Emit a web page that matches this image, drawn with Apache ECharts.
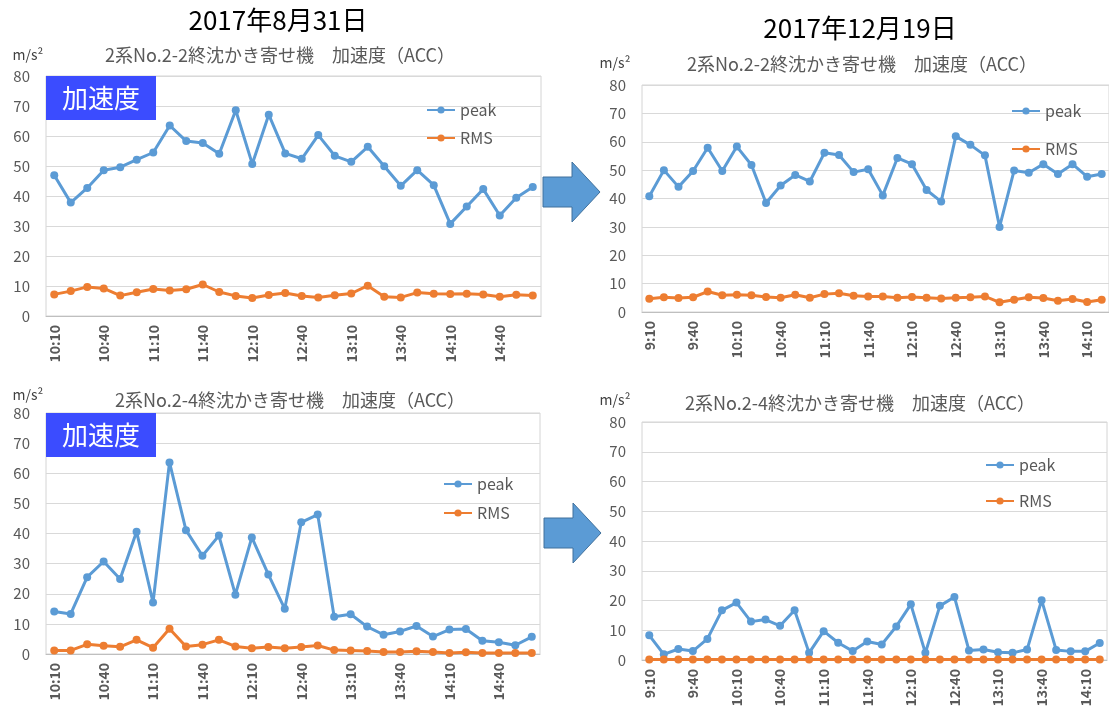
<!DOCTYPE html>
<html>
<head>
<meta charset="utf-8">
<script src="https://cdn.jsdelivr.net/npm/echarts@6/dist/echarts.min.js"></script>
<style>
  body { margin: 0; background: #fff; }
  #main { width: 1109px; height: 710px; }
</style>
</head>
<body>
<div id="main"></div>
<script>
// 8/31 の時刻 (10分毎)
var times1 = ['10:10','10:20','10:30','10:40','10:50','11:00','11:10','11:20','11:30','11:40',
              '11:50','12:00','12:10','12:20','12:30','12:40','12:50','13:00','13:10','13:20',
              '13:30','13:40','13:50','14:00','14:10','14:20','14:30','14:40','14:50','15:00'];
// 12/19 の時刻
var times2 = ['9:10','9:20','9:30','9:40','9:50','10:00','10:10','10:20','10:30','10:40',
              '10:50','11:00','11:10','11:20','11:30','11:40','11:50','12:00','12:10','12:20',
              '12:30','12:40','12:50','13:00','13:10','13:20','13:30','13:40','13:50','14:00',
              '14:10','14:20'];

// No.2-2 8/31
var peak22a = [46.9, 37.8, 42.7, 48.6, 49.6, 52.1, 54.5, 63.5, 58.3, 57.7,
               54.1, 68.6, 50.7, 67.1, 54.2, 52.4, 60.3, 53.4, 51.4, 56.4,
               49.9, 43.4, 48.6, 43.6, 30.7, 36.5, 42.3, 33.5, 39.4, 43.0];
var rms22a  = [7.2, 8.3, 9.7, 9.2, 6.8, 7.9, 9.0, 8.5, 8.9, 10.5,
               8.0, 6.7, 6.0, 7.0, 7.7, 6.7, 6.2, 6.9, 7.5, 10.1,
               6.4, 6.2, 7.8, 7.4, 7.3, 7.4, 7.2, 6.4, 7.1, 6.8];
// No.2-2 12/19
var peak22b = [40.8, 50.0, 44.1, 49.7, 57.9, 49.7, 58.3, 51.8, 38.4, 44.6,
               48.3, 46.0, 56.1, 55.3, 49.3, 50.3, 41.1, 54.3, 52.1, 43.0,
               38.9, 61.9, 58.9, 55.2, 30.0, 49.9, 49.1, 52.1, 48.6, 52.1,
               47.7, 48.6];
var rms22b  = [4.7, 5.2, 4.9, 5.2, 7.2, 5.9, 6.1, 5.9, 5.3, 5.0,
               6.1, 5.0, 6.3, 6.6, 5.7, 5.5, 5.5, 5.0, 5.3, 5.0,
               4.8, 5.0, 5.2, 5.5, 3.4, 4.3, 5.2, 4.9, 4.0, 4.6,
               3.5, 4.3];
// No.2-4 8/31
var peak24a = [14.1, 13.3, 25.5, 30.7, 24.9, 40.6, 17.1, 63.6, 41.1, 32.6,
               39.3, 19.7, 38.7, 26.4, 15.0, 43.7, 46.3, 12.4, 13.2, 9.1,
               6.4, 7.5, 9.3, 5.8, 8.1, 8.3, 4.4, 3.9, 2.9, 5.7];
var rms24a  = [1.2, 1.2, 3.2, 2.7, 2.4, 4.7, 2.1, 8.4, 2.5, 3.1,
               4.7, 2.5, 1.9, 2.3, 1.9, 2.3, 2.8, 1.3, 1.2, 1.0,
               0.7, 0.7, 0.9, 0.7, 0.3, 0.6, 0.3, 0.3, 0.3, 0.3];
// No.2-4 12/19
var peak24b = [8.3, 1.9, 3.7, 3.0, 7.1, 16.7, 19.3, 12.9, 13.6, 11.5,
               16.7, 2.4, 9.7, 5.8, 3.0, 6.2, 5.2, 11.3, 18.7, 2.4,
               18.2, 21.2, 3.2, 3.5, 2.6, 2.4, 3.5, 20.1, 3.4, 2.9,
               2.9, 5.7];
var rms24b  = [0.2, 0.2, 0.2, 0.2, 0.2, 0.2, 0.2, 0.2, 0.2, 0.2,
               0.2, 0.2, 0.2, 0.2, 0.2, 0.2, 0.2, 0.2, 0.2, 0.2,
               0.2, 0.2, 0.2, 0.2, 0.2, 0.2, 0.2, 0.2, 0.2, 0.2,
               0.2, 0.2];

var FONT = '"Noto Sans CJK JP", "Noto Sans", sans-serif';
var GRAY = '#595959';
var BLUE = '#5b9bd5';
var ORANGE = '#ed7d31';

var panels = [
    {grid: {left: 46, top: 76, width: 495, height: 240}, cats: times1, peak: peak22a, rms: rms22a,
     legend: {left: 421, top: 97, itemGap: 12}},
    {grid: {left: 642, top: 85, width: 470, height: 227}, cats: times2, peak: peak22b, rms: rms22b,
     legend: {left: 1006, top: 98, itemGap: 22}},
    {grid: {left: 46, top: 413, width: 494, height: 241}, cats: times1, peak: peak24a, rms: rms24a,
     legend: {left: 438, top: 471, itemGap: 13}},
    {grid: {left: 642, top: 422, width: 465, height: 238}, cats: times2, peak: peak24b, rms: rms24b,
     legend: {left: 980, top: 452, itemGap: 20}}
];

var grids = [], xAxes = [], yAxes = [], series = [], legends = [];
panels.forEach(function (p, i) {
    grids.push(Object.assign({show: true, borderColor: '#d4d4d4', borderWidth: 1}, p.grid));
    xAxes.push({
        type: 'category', gridIndex: i, data: p.cats, boundaryGap: true,
        axisTick: {show: false},
        axisLine: {lineStyle: {color: '#bfbfbf'}},
        axisLabel: {interval: 2, rotate: 90, margin: 9, color: GRAY, fontSize: 14,
                    fontWeight: 'bold', fontFamily: FONT}
    });
    yAxes.push({
        type: 'value', gridIndex: i, min: 0, max: 80, interval: 10,
        axisLine: {show: false}, axisTick: {show: false},
        axisLabel: {color: GRAY, fontSize: 15, margin: 16, fontFamily: FONT},
        splitLine: {lineStyle: {color: '#d9d9d9'}}
    });
    series.push({
        name: 'peak', type: 'line', xAxisIndex: i, yAxisIndex: i, data: p.peak,
        symbol: 'circle', symbolSize: 8, color: BLUE, lineStyle: {width: 3}
    });
    series.push({
        name: 'RMS', type: 'line', xAxisIndex: i, yAxisIndex: i, data: p.rms,
        symbol: 'circle', symbolSize: 8, color: ORANGE, lineStyle: {width: 3}
    });
    legends.push({
        data: ['peak', 'RMS'], orient: 'vertical', left: p.legend.left, top: p.legend.top,
        itemGap: p.legend.itemGap, itemWidth: 28, itemHeight: 9,
        textStyle: {color: GRAY, fontSize: 16, fontFamily: FONT, lineHeight: 16}
    });
});

function txt(x, y, s, size, color, weight) {
    return {
        type: 'text', x: x, y: y, z: 100,
        style: {text: s, fill: color, font: (weight || 'normal') + ' ' + size + 'px ' + FONT,
                align: 'center', verticalAlign: 'middle',
                textAlign: 'center', textVerticalAlign: 'middle'}
    };
}
function badge(x, y) {
    return [
        {type: 'rect', z: 100, shape: {x: x, y: y, width: 110, height: 44}, style: {fill: '#3b4cff'}},
        txt(x + 55, y + 22, '加速度', 26, '#fff')
    ];
}
function arrow(x, yc) {
    return {
        type: 'polygon', z: 100,
        shape: {points: [[x, yc - 15], [x + 29, yc - 15], [x + 29, yc - 30], [x + 57, yc],
                         [x + 29, yc + 30], [x + 29, yc + 15], [x, yc + 15]]},
        style: {fill: BLUE, stroke: '#41719c', lineWidth: 1}
    };
}

var graphics = [
    txt(278, 20, '2017年8月31日', 26, '#000'),
    txt(860, 28, '2017年12月19日', 26, '#000'),
    txt(280, 55, '2系No.2-2終沈かき寄せ機　加速度（ACC）', 18, GRAY),
    txt(862, 64, '2系No.2-2終沈かき寄せ機　加速度（ACC）', 18, GRAY),
    txt(290, 400, '2系No.2-4終沈かき寄せ機　加速度（ACC）', 18, GRAY),
    txt(860, 403, '2系No.2-4終沈かき寄せ機　加速度（ACC）', 18, GRAY),
    txt(28, 55, 'm/s²', 14, '#404040'),
    txt(615, 63, 'm/s²', 14, '#404040'),
    txt(28, 395, 'm/s²', 14, '#404040'),
    txt(615, 400, 'm/s²', 14, '#404040'),
    arrow(543, 192),
    arrow(544, 533)
].concat(badge(46, 76), badge(46, 413));

var myChart = echarts.init(document.getElementById('main'));
var option = {
    animation: false,
    backgroundColor: '#fff',
    grid: grids,
    xAxis: xAxes,
    yAxis: yAxes,
    legend: legends,
    series: series,
    graphic: graphics
};
myChart.setOption(option);
</script>
</body>
</html>
